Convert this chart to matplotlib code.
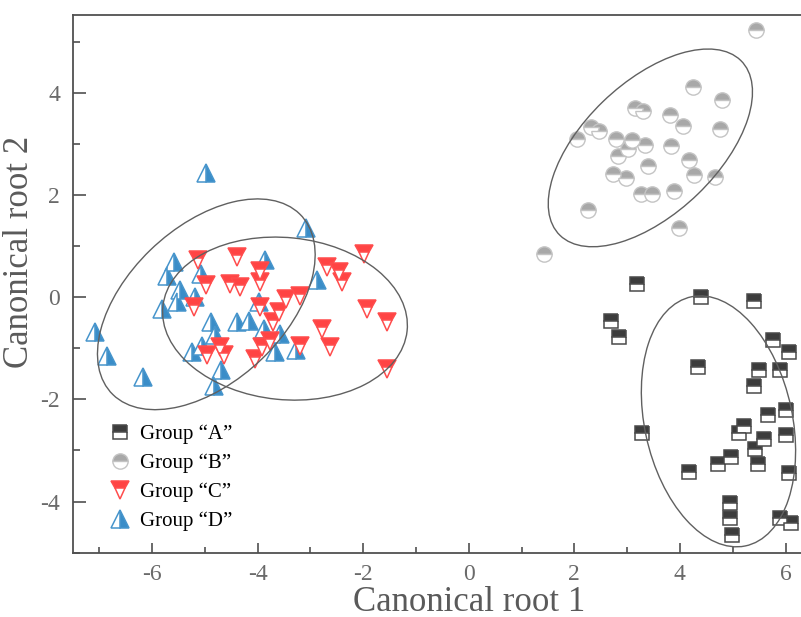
import matplotlib.pyplot as plt
from matplotlib.patches import Ellipse
from matplotlib.ticker import MultipleLocator

# --- data ---
grupo_a_x = [3.19, 2.69, 2.84, 4.40, 5.40, 5.77, 6.07, 4.34, 5.50, 5.89, 5.41, 5.67, 6.01, 3.28, 5.21,
             5.11, 5.59, 6.01, 5.42, 4.97, 4.73, 5.48, 4.18, 6.06, 4.94, 4.94, 5.89, 6.11, 4.99]
grupo_a_y = [0.25, -0.46, -0.78, 0.01, -0.08, -0.83, -1.08, -1.37, -1.42, -1.43, -1.73, -2.30, -2.20, -2.65, -2.52,
             -2.65, -2.78, -2.69, -2.98, -3.12, -3.27, -3.27, -3.42, -3.44, -4.03, -4.32, -4.32, -4.42, -4.66]

grupo_b_x = [5.44, 4.24, 4.80, 3.14, 3.31, 3.82, 4.05, 4.75, 2.32, 2.47, 2.06, 2.79, 3.10, 3.34, 3.02,
             2.83, 3.84, 4.18, 3.39, 2.73, 2.97, 4.26, 4.67, 3.27, 3.47, 3.89, 2.25, 3.99, 1.43]
grupo_b_y = [5.22, 4.12, 3.86, 3.70, 3.65, 3.57, 3.35, 3.28, 3.32, 3.26, 3.10, 3.10, 3.08, 2.98, 2.90,
             2.77, 2.96, 2.69, 2.56, 2.41, 2.33, 2.38, 2.35, 2.01, 2.02, 2.07, 1.70, 1.35, 0.85]

grupo_c_x = [-5.12, -4.39, -4.97, -4.52, -4.33, -5.21, -4.71, -4.96, -4.64, -3.95, -3.95, -2.68, -2.46, -2.40,
             -1.99, -3.47, -3.19, -3.95, -3.60, -3.70, -1.93, -1.55, -2.78, -3.91, -3.76, -3.19, -2.62, -4.04, -1.55]
grupo_c_y = [0.72, 0.78, 0.23, 0.26, 0.20, -0.20, -0.98, -1.14, -1.14, 0.52, 0.29, 0.59, 0.49, 0.29,
             0.85, -0.03, 0.03, -0.20, -0.29, -0.49, -0.23, -0.49, -0.62, -0.98, -0.85, -0.95, -0.98, -1.21, -1.40]

grupo_d_x = [-4.98, -3.08, -5.59, -5.71, -5.08, -5.46, -5.18, -5.52, -5.81, -7.07, -6.85, -6.16, -4.89, -4.39,
             -4.17, -5.05, -5.24, -4.80, -4.70, -4.83, -3.85, -2.87, -3.98, -3.88, -3.57, -3.66, -3.28]
grupo_d_y = [2.43, 1.36, 0.68, 0.42, 0.46, 0.13, 0.00, -0.10, -0.23, -0.68, -1.16, -1.57, -0.49, -0.49,
             -0.46, -0.95, -1.08, -0.75, -1.43, -1.73, 0.72, 0.33, -0.10, -0.62, -0.72, -1.08, -1.04]

# ellipses: center x, center y, width, height, angle
elipse_cx = [4.73, 3.44, -3.48, -4.97]
elipse_cy = [-2.43, 2.92, -0.42, -0.14]
elipse_w = [4.98, 4.84, 4.65, 5.0]
elipse_h = [2.80, 2.55, 3.17, 3.0]
elipse_ang = [101.7, 45.0, -6.0, 45.0]

etiquetas = ["Group \u201cA\u201d", "Group \u201cB\u201d", "Group \u201cC\u201d", "Group \u201cD\u201d"]

plt.rcParams['font.family'] = ['Liberation Serif', 'DejaVu Serif']
plt.rcParams['axes.unicode_minus'] = False

fig = plt.figure(figsize=(8.01, 6.17), dpi=100)
ax = fig.add_axes([0.0908, 0.1042, 0.909, 0.8715])

h_a, = ax.plot(grupo_a_x, grupo_a_y, ls='none', marker='s', markersize=10.5, fillstyle='top',
               markerfacecolor='#3c3c3c', markerfacecoloralt='white', markeredgecolor='#4a4a4a',
               markeredgewidth=1.1, label=etiquetas[0])
h_b, = ax.plot(grupo_b_x, grupo_b_y, ls='none', marker='o', markersize=11, fillstyle='top',
               markerfacecolor='#a8a8a8', markerfacecoloralt='white', markeredgecolor='#c4c4c4',
               markeredgewidth=1.0, label=etiquetas[1])
h_d, = ax.plot(grupo_d_x, grupo_d_y, ls='none', marker='^', markersize=13, fillstyle='right',
               markerfacecolor='#3a8dc8', markerfacecoloralt='white', markeredgecolor='#4795cc',
               markeredgewidth=1.1, label=etiquetas[3])
h_c, = ax.plot(grupo_c_x, grupo_c_y, ls='none', marker='v', markersize=13, fillstyle='top',
               markerfacecolor='#ff4444', markerfacecoloralt='white', markeredgecolor='#ff4c4c',
               markeredgewidth=1.1, label=etiquetas[2])

for cx, cy, w, h, ang in zip(elipse_cx, elipse_cy, elipse_w, elipse_h, elipse_ang):
    ax.add_patch(Ellipse((cx, cy), w, h, angle=ang, fill=False, edgecolor='#606060',
                         linewidth=1.0, zorder=5))

ax.set_xlim(-7.5, 6.29)
ax.set_ylim(-5, 5.52)
ax.xaxis.set_major_locator(MultipleLocator(2))
ax.xaxis.set_minor_locator(MultipleLocator(1))
ax.yaxis.set_major_locator(MultipleLocator(2))
ax.yaxis.set_minor_locator(MultipleLocator(1))

gris = '#505050'
for lado in ['left', 'bottom', 'top']:
    ax.spines[lado].set_color(gris)
    ax.spines[lado].set_linewidth(1.3)
ax.spines['right'].set_visible(False)

ax.tick_params(axis='both', which='both', direction='in', color=gris, width=1.2,
               labelcolor='#6a6a6a', labelsize=17, top=False, right=False)
ax.tick_params(axis='x', which='major', length=7, pad=8)
ax.tick_params(axis='x', which='minor', length=4)
ax.tick_params(axis='y', which='major', length=9, pad=9)
ax.tick_params(axis='y', which='minor', length=5)

ax.set_xlabel("Canonical root 1", fontsize=25, color='#5a5a5a')
ax.set_ylabel("Canonical root 2", fontsize=25, color='#5a5a5a')
ax.xaxis.set_label_coords(0.544, -0.061)
ax.yaxis.set_label_coords(-0.05, 0.56)

ax.legend(handles=[h_a, h_b, h_c, h_d], loc='upper left', bbox_to_anchor=(0.03, 0.265),
          frameon=False, fontsize=15, handlelength=1.0, handletextpad=0.5,
          labelspacing=0.45, borderpad=0.2)

fig.savefig("out.png", dpi=100)
